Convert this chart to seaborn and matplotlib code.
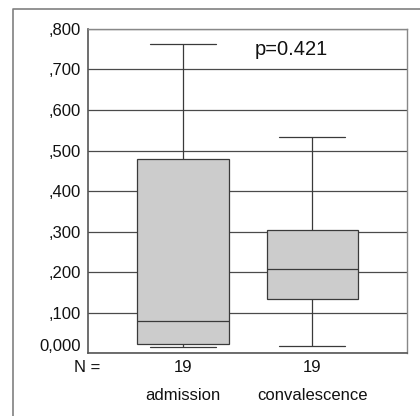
import numpy as np
import pandas as pd
import seaborn as sns
import matplotlib.pyplot as plt
from matplotlib.lines import Line2D
from matplotlib.transforms import ScaledTranslation

# Box summary: whisker low, Q1, median, Q3, whisker high
groups = ["admission", "convalescence"]
n_cases = [19, 19]
admission = [0.015, 0.022, 0.079, 0.479, 0.763]
convalescence = [0.017, 0.133, 0.207, 0.304, 0.533]
p_text = "p=0.421"

yticks = [0.0, 0.1, 0.2, 0.3, 0.4, 0.5, 0.6, 0.7, 0.8]
ytick_labels = ["0,000", ",100", ",200", ",300", ",400", ",500", ",600", ",700", ",800"]

df = pd.DataFrame({
    "group": ["admission"] * len(admission) + ["convalescence"] * len(convalescence),
    "value": admission + convalescence,
})

sns.set_theme(style="white")
plt.rcParams["font.family"] = ["Liberation Sans", "DejaVu Sans"]

fig = plt.figure(figsize=(4.2, 4.16), dpi=100)
ax = fig.add_axes([0.2095, 0.1514, 0.7595, 0.7789])

# grid first so boxes sit on top
for y in yticks:
    ax.axhline(y, color="#4a4a4a", lw=0.9, zorder=0)

sns.boxplot(data=df, x="group", y="value", order=groups, ax=ax,
            width=0.71, whis=(0, 100), color="#cccccc", linecolor="#3a3a3a",
            linewidth=0.9, fliersize=0, capwidths=0.51, zorder=2)

ax.set_xlim(-0.734, 1.73)
ax.set_ylim(0, 0.8)
ax.set_yticks(yticks)
ax.set_yticklabels(ytick_labels, fontsize=12, color="#111111")
ax.set_xticks([0, 1])
ax.set_xticklabels([str(n) for n in n_cases], fontsize=12, color="#111111")
ax.tick_params(axis="y", length=3, width=0.8, color="#444444", pad=2)
ax.tick_params(axis="x", direction="in", length=3, width=0.8, color="#444444", pad=5)
ax.set_xlabel("")
ax.set_ylabel("")

# the 0,000 label sits a bit higher in the original
lab0 = ax.get_yticklabels()[0]
lab0.set_transform(lab0.get_transform() + ScaledTranslation(0, 8 / 100, fig.dpi_scale_trans))

for side in ["left", "bottom"]:
    ax.spines[side].set_color("#555555")
    ax.spines[side].set_linewidth(1.2)
for side in ["top", "right"]:
    ax.spines[side].set_color("#888888")
    ax.spines[side].set_linewidth(1.0)

ax.text(0.84, 0.75, p_text, fontsize=14.5, ha="center", va="center", color="#111111")

# N = and category names under the axis
fig.text(87.5 / 420, 1 - 367 / 416, "N =", fontsize=12, ha="center", va="center", color="#111111")
for i, g in enumerate(groups):
    xf = ax.transData.transform((i, 0))[0]
    fig.text(xf / fig.bbox.width, 1 - 395 / 416, g, fontsize=12,
             ha="center", va="center", color="#111111")

# outer frame, open at right and bottom
fig.add_artist(Line2D([13 / 420, 13 / 420, 1.0], [0.0, 1 - 9 / 416, 1 - 9 / 416],
                      transform=fig.transFigure, color="#808080", lw=1.2))

fig.savefig("out.png", dpi=100)
